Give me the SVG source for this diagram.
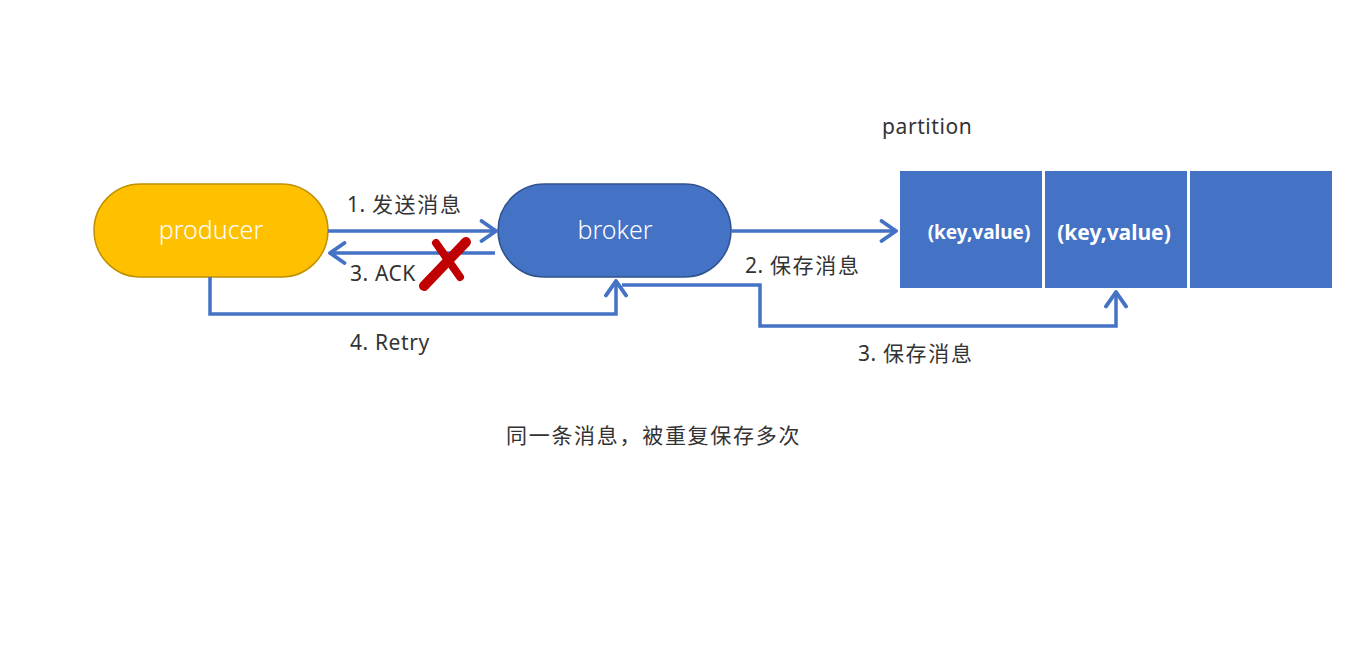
<svg xmlns="http://www.w3.org/2000/svg" width="1368" height="658" viewBox="0 0 1368 658">
<defs>
<marker id="arr" markerUnits="userSpaceOnUse" markerWidth="20" markerHeight="24" viewBox="-16 -10 18 20" refX="0" refY="0" orient="auto">
<path d="M-13,-9 L0,0 L-13,9" fill="none" stroke="#4472C4" stroke-width="3.5" stroke-linecap="round" stroke-linejoin="round"/>
</marker>
</defs>
<style>
.lbl{font-family:"Noto Sans","Noto Sans CJK SC",sans-serif;font-size:21px;fill:#333333;letter-spacing:0.6px}
.cjk{letter-spacing:1.7px}
.con{fill:none;stroke:#4472C4;stroke-width:3.5}
.node{font-family:"Noto Sans","Noto Sans CJK SC",sans-serif;font-size:25px;fill:#ffffff;font-weight:300}
.kv{font-family:"Noto Sans","Noto Sans CJK SC",sans-serif;font-size:19px;fill:#ffffff;font-weight:bold}
.cell{fill:#4472C4}
</style>
<rect width="1368" height="658" fill="#ffffff"/>
<g id="producer">
<rect x="94" y="184" width="234" height="93" rx="46.5" fill="#FFC000" stroke="#BF9000" stroke-width="1.5"/>
<text class="node" x="211" y="239" text-anchor="middle">producer</text>
</g>
<g id="broker">
<rect x="498" y="184" width="233" height="93" rx="46.5" fill="#4472C4" stroke="#2F528F" stroke-width="1.5"/>
<text class="node" x="615" y="239" text-anchor="middle">broker</text>
</g>
<g id="partition">
<text class="lbl" x="882" y="134">partition</text>
<rect class="cell" x="900" y="171" width="142" height="117"/>
<rect class="cell" x="1045" y="171" width="142" height="117"/>
<rect class="cell" x="1190" y="171" width="142" height="117"/>
<text class="kv" x="979" y="239" text-anchor="middle">(key,value)</text>
<text class="kv" x="1114" y="240" text-anchor="middle" style="font-size:21px">(key,value)</text>
</g>
<g id="connectors">
<path class="con" d="M328,231 L496,231" marker-end="url(#arr)"/>
<path class="con" d="M495,253 L330,253" marker-end="url(#arr)"/>
<path class="con" d="M210,277 L210,314 L616,314 L616,281" marker-end="url(#arr)"/>
<path class="con" d="M731,231 L896,231" marker-end="url(#arr)"/>
<path class="con" d="M622,285 L760,285 L760,326 L1116,326 L1116,292" marker-end="url(#arr)"/>
</g>
<g id="labels">
<text class="lbl" x="347" y="212">1. <tspan class="cjk">发送消息</tspan></text>
<text class="lbl" x="350" y="281">3. ACK</text>
<text class="lbl" x="350" y="350">4. Retry</text>
<text class="lbl" x="745" y="273">2. <tspan class="cjk">保存消息</tspan></text>
<text class="lbl" x="858" y="361">3. <tspan class="cjk">保存消息</tspan></text>
<text class="lbl cjk" x="506" y="443">同一条消息，被重复保存多次</text>
</g>
<g id="cross">
<path d="M466,242 L424,286" fill="none" stroke="#C00000" stroke-width="10" stroke-linecap="round"/>
<path d="M436,243 L460,277" fill="none" stroke="#C00000" stroke-width="8" stroke-linecap="round"/>
</g>
</svg>
